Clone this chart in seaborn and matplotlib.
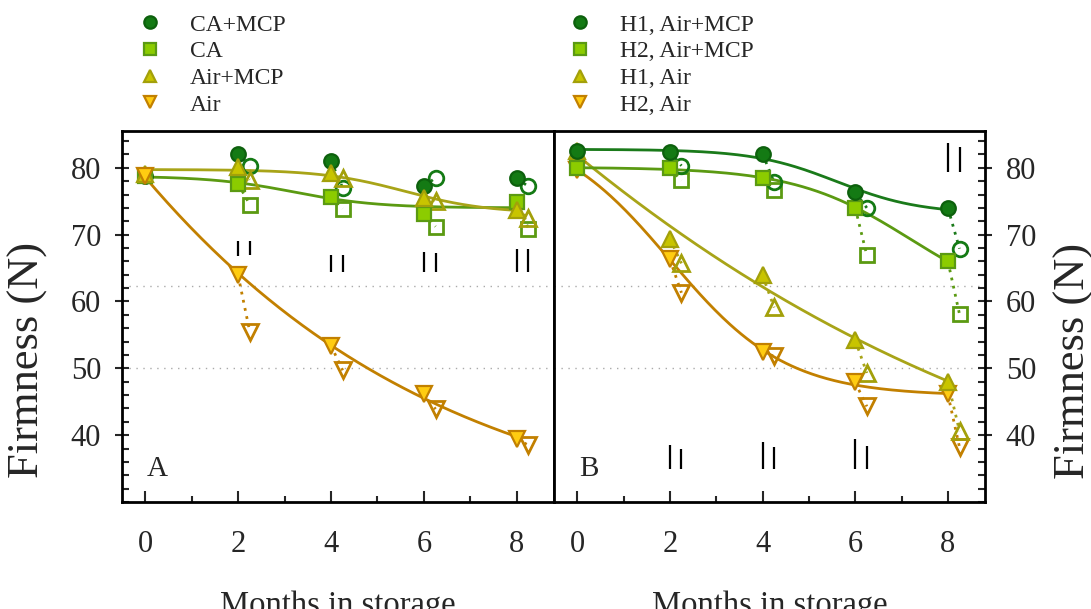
import numpy as np
import pandas as pd
import matplotlib
matplotlib.use("Agg")
import matplotlib.pyplot as plt
from matplotlib.lines import Line2D
from matplotlib.ticker import MultipleLocator
import seaborn as sns

# ---- data ----
months = [0, 2, 4, 6, 8]
shelf_months = [2, 4, 6, 8]   # open symbols = after shelf life

# panel A
a_ca_mcp = [78.7, 82.1, 81.0, 77.2, 78.4]
a_ca_mcp_shelf = [80.3, 77.0, 78.5, 77.2]
a_ca = [78.7, 77.6, 75.7, 73.1, 74.9]
a_ca_shelf = [74.5, 73.9, 71.2, 70.9]
a_air_mcp = [79.0, 80.1, 79.2, 75.5, 73.7]
a_air_mcp_shelf = [78.2, 78.4, 75.1, 72.5]
a_air = [78.7, 63.9, 53.4, 46.1, 39.4]
a_air_shelf = [55.5, 49.7, 43.9, 38.5]

# panel B
b_h1_mcp = [82.5, 82.4, 82.1, 76.3, 74.0]
b_h1_mcp_shelf = [80.3, 77.8, 74.0, 67.9]
b_h2_mcp = [79.9, 79.9, 78.5, 74.0, 66.0]
b_h2_mcp_shelf = [78.1, 76.7, 66.9, 58.1]
b_h1_air = [82.5, 69.4, 63.9, 54.2, 47.9]
b_h1_air_shelf = [65.7, 59.1, 49.3, 40.6]
b_h2_air = [79.7, 66.3, 52.4, 47.9, 46.1]
b_h2_air_shelf = [61.3, 51.8, 44.3, 38.2]

# LSD bars (removal bar at month, shelf bar just right of it)
a_lsd_lo = [66.8, 64.4, 64.4, 64.4]
a_lsd_hi = [69.0, 66.9, 67.4, 67.8]
a_lsd_shelf_lo = [66.9, 64.4, 64.4, 64.4]
a_lsd_shelf_hi = [69.1, 66.9, 67.2, 67.8]
b_lsd_lo = [35.0, 35.0, 35.0, 79.3]
b_lsd_hi = [38.5, 39.0, 39.4, 83.7]
b_lsd_shelf_lo = [35.0, 35.0, 35.0, 79.3]
b_lsd_shelf_hi = [37.9, 38.2, 38.4, 83.1]

# thresholds (dotted grey)
limits = [62.3, 50.0]

labels_a = ["CA+MCP", "CA", "Air+MCP", "Air"]
labels_b = ["H1, Air+MCP", "H2, Air+MCP", "H1, Air", "H2, Air"]

# ---- style ----
sns.set_style("ticks")
plt.rcParams['font.family'] = ['Liberation Serif', 'DejaVu Serif']

dx = 0.25
styles = [
    # marker, face, edge, line, size
    ("o", "#147a14", "#0d600d", "#1a7a1a", 10.5),
    ("s", "#8ccc00", "#5b9a12", "#5b9a12", 9.5),
    ("^", "#c8c400", "#a3a00a", "#a8a418", 11),
    ("v", "#ffcc11", "#c28000", "#c28000", 11),
]


def sigmoid_fit(x, y):
    # y = c + d / (1 + exp(-(x - x0) / s)), grid over x0, s; c, d by least squares
    x = np.asarray(x, float)
    y = np.asarray(y, float)
    best = None
    scales = np.linspace(0.9, 15, 80)
    for x0 in np.linspace(-10, 18, 141):
        for s in np.concatenate([scales, -scales]):
            g = 1 / (1 + np.exp(-(x - x0) / s))
            A = np.column_stack([np.ones_like(x), g])
            coef, *_ = np.linalg.lstsq(A, y, rcond=None)
            err = np.sum((A @ coef - y) ** 2)
            if best is None or err < best[0]:
                best = (err, x0, s, coef)
    _, x0, s, (c, d) = best
    xs = np.linspace(x.min(), x.max(), 200)
    return xs, c + d / (1 + np.exp(-(xs - x0) / s))


def draw_series(ax, filled, shelf, st, fit=True):
    marker, face, edge, line, ms = st
    if fit:
        xs, ys = sigmoid_fit(months, filled)
        sns.lineplot(x=xs, y=ys, ax=ax, color=line, lw=2, zorder=2)
    for m, a, b in zip(shelf_months, filled[1:], shelf):
        ax.plot([m, m + dx], [a, b], ls=(0, (1, 2)), color=line, lw=2, zorder=1)
    ax.plot(np.array(shelf_months) + dx, shelf, ls="none", marker=marker, ms=ms,
            mfc="none", mec=edge if marker != "o" else face, mew=2, zorder=3)
    ax.plot(months, filled, ls="none", marker=marker, ms=ms,
            mfc=face, mec=edge, mew=1.6, zorder=4)


def draw_lsd(ax, lo, hi, lo2, hi2):
    ax.vlines(shelf_months, lo, hi, color="black", lw=1.6, zorder=2)
    ax.vlines(np.array(shelf_months) + dx, lo2, hi2, color="black", lw=1.6, zorder=2)


fig = plt.figure(figsize=(10.91, 6.09), dpi=100)
ax1 = fig.add_axes([122 / 1091, 1 - 502 / 609, 432 / 1091, 371 / 609])
ax2 = fig.add_axes([554 / 1091, 1 - 502 / 609, 431 / 1091, 371 / 609])

for ax in (ax1, ax2):
    for y in limits:
        ax.axhline(y, color="#aaaaaa", lw=1, ls=(0, (1, 4)), zorder=0)

draw_series(ax1, a_ca_mcp, a_ca_mcp_shelf, styles[0], fit=False)
draw_series(ax1, a_ca, a_ca_shelf, styles[1])
draw_series(ax1, a_air_mcp, a_air_mcp_shelf, styles[2])
draw_series(ax1, a_air, a_air_shelf, styles[3])
draw_lsd(ax1, a_lsd_lo, a_lsd_hi, a_lsd_shelf_lo, a_lsd_shelf_hi)

draw_series(ax2, b_h2_air, b_h2_air_shelf, styles[3])
draw_series(ax2, b_h1_air, b_h1_air_shelf, styles[2])
draw_series(ax2, b_h2_mcp, b_h2_mcp_shelf, styles[1])
draw_series(ax2, b_h1_mcp, b_h1_mcp_shelf, styles[0])
draw_lsd(ax2, b_lsd_lo, b_lsd_hi, b_lsd_shelf_lo, b_lsd_shelf_hi)

for ax in (ax1, ax2):
    ax.set_xlim(-0.5, 8.8)
    ax.set_ylim(30, 85.5)
    ax.set_xticks(months)
    ax.xaxis.set_minor_locator(MultipleLocator(1))
    ax.set_yticks([40, 50, 60, 70, 80])
    ax.yaxis.set_minor_locator(MultipleLocator(2))
    ax.set_xlabel("")
    ax.set_ylabel("")
    for s in ax.spines.values():
        s.set_visible(True)
        s.set_linewidth(2)
        s.set_color("black")
    ax.tick_params(axis="x", which="major", direction="in", length=8, width=1.5,
                   labelsize=22, pad=20, top=False)
    ax.tick_params(axis="x", which="minor", direction="in", length=4, width=1.5, top=False)

ax1.tick_params(axis="y", which="major", direction="inout", length=10, width=1.5,
                labelsize=22, pad=10, right=False)
ax1.tick_params(axis="y", which="minor", direction="in", length=5, width=1.5, right=False)
ax2.tick_params(axis="y", which="both", left=False, labelleft=False,
                right=True, labelright=True)
ax2.tick_params(axis="y", which="major", direction="inout", length=10, width=1.5,
                labelsize=22, pad=10)
ax2.tick_params(axis="y", which="minor", direction="in", length=5, width=1.5)

ax1.text(0.058, 0.09, "A", transform=ax1.transAxes, fontsize=21, va="center")
ax2.text(0.058, 0.09, "B", transform=ax2.transAxes, fontsize=21, va="center")

fig.text(28 / 1091, 1 - 360 / 609, "Firmness (N)", rotation=90, ha="center",
         va="center", fontsize=32)
fig.text(1074 / 1091, 1 - 361 / 609, "Firmness (N)", rotation=90, ha="center",
         va="center", fontsize=32)
fig.text(338 / 1091, 1 - 614 / 609, "Months in storage", ha="center",
         va="baseline", fontsize=23.5)
fig.text(770 / 1091, 1 - 614 / 609, "Months in storage", ha="center",
         va="baseline", fontsize=23.5)


def handles():
    return [Line2D([], [], ls="none", marker=m, ms=ms * 0.85, mfc=f, mec=e, mew=1.6)
            for m, f, e, _, ms in styles]


leg_kw = dict(frameon=False, fontsize=17, handlelength=1.0, handletextpad=1.2,
              labelspacing=0.22, borderaxespad=0, borderpad=0)
fig.legend(handles(), labels_a, loc="upper left",
           bbox_to_anchor=(138 / 1091, 1 - 14 / 609), **leg_kw)
fig.legend(handles(), labels_b, loc="upper left",
           bbox_to_anchor=(568 / 1091, 1 - 14 / 609), **leg_kw)

fig.savefig("out.png", dpi=100)
